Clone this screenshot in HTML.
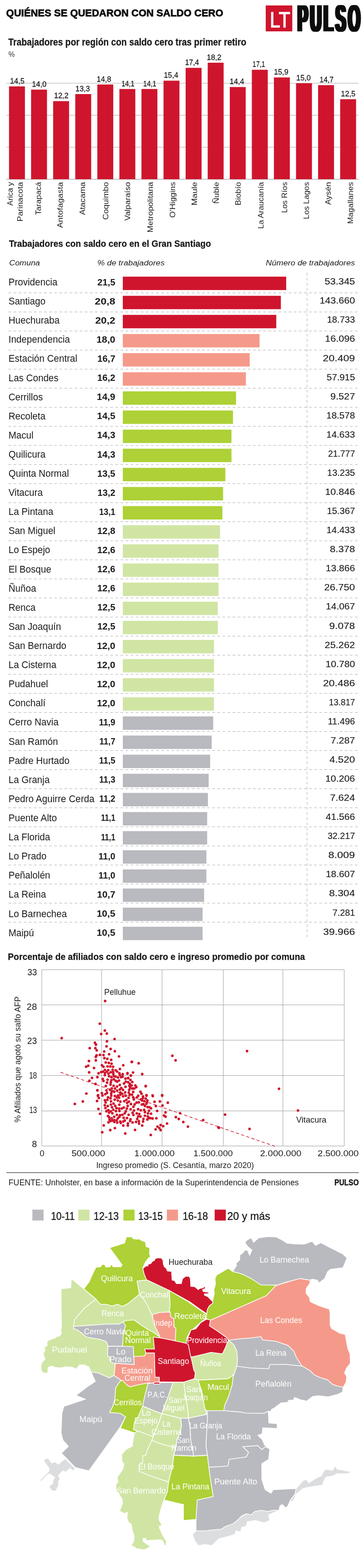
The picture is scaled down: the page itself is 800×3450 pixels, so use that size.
<!DOCTYPE html>
<html lang="es">
<head>
<meta charset="utf-8">
<title>Quiénes se quedaron con saldo cero</title>
<style>
html,body{margin:0;padding:0;background:#fff;}
body{width:800px;height:3450px;overflow:hidden;font-family:"Liberation Sans", sans-serif;}
svg{display:block;}
svg text{font-family:"Liberation Sans", sans-serif;fill:#1a1a1a;}
</style>
</head>
<body>
<svg width="800" height="3450" viewBox="0 0 800 3450">
<rect x="0" y="0" width="800" height="3450" fill="#ffffff"/>
<defs><filter id="fat" x="-5%" y="-5%" width="110%" height="110%" filterUnits="objectBoundingBox"><feMorphology operator="dilate" radius="3 0"/></filter></defs>
<g id="header">
<text x="13.6" y="36.3" font-size="22.6" font-weight="bold" textLength="477.0" lengthAdjust="spacingAndGlyphs" style="fill:#111" stroke="#111" stroke-width="0.9">QUIÉNES SE QUEDARON CON SALDO CERO</text>
<rect x="584.0" y="12.0" width="58.4" height="57.0" fill="#cf152d"/>
<text x="593.0" y="60.0" font-size="48" textLength="45.0" lengthAdjust="spacingAndGlyphs" style="fill:#ffffff" stroke="#ffffff" stroke-width="1.3">LT</text>
<g filter="url(#fat)"><text transform="translate(653.9 69) scale(0.4156 1)" font-size="82.8" font-weight="bold" letter-spacing="11.6" style="fill:#111">PULSO</text></g>
</g>
<g id="barchart">
<text x="18.2" y="99.7" font-size="21.6" font-weight="bold" textLength="523.0" lengthAdjust="spacingAndGlyphs" stroke="#1a1a1a" stroke-width="0.3">Trabajadores por región con saldo cero tras primer retiro</text>
<text x="18.4" y="124.6" font-size="16" textLength="14.0" lengthAdjust="spacingAndGlyphs" style="fill:#333">%</text>
<line x1="13.5" y1="394.3" x2="788.0" y2="394.3" stroke="#8a8a8a" stroke-width="1"/>
<line x1="13.5" y1="323.9" x2="788.0" y2="323.9" stroke="#a9a9a9" stroke-width="1"/>
<line x1="13.5" y1="253.5" x2="788.0" y2="253.5" stroke="#a9a9a9" stroke-width="1"/>
<line x1="13.5" y1="183.1" x2="788.0" y2="183.1" stroke="#a9a9a9" stroke-width="1"/>
<rect x="19.8" y="190.1" width="35.0" height="204.2" fill="#cf152d"/>
<text x="22.0" y="184.0" font-size="17" textLength="31.9" lengthAdjust="spacingAndGlyphs" stroke="#1a1a1a" stroke-width="0.3">14,5</text>
<text x="28.5" y="452.4" font-size="17" textLength="52.0" lengthAdjust="spacingAndGlyphs" transform="rotate(-90 28.5 452.4)">Arica y</text>
<text x="50.3" y="487.4" font-size="17" textLength="87.0" lengthAdjust="spacingAndGlyphs" transform="rotate(-90 50.3 487.4)">Parinacota</text>
<rect x="68.3" y="197.2" width="35.0" height="197.1" fill="#cf152d"/>
<text x="70.2" y="191.1" font-size="17" textLength="31.9" lengthAdjust="spacingAndGlyphs" stroke="#1a1a1a" stroke-width="0.3">14,0</text>
<text x="89.8" y="473.1" font-size="17" textLength="72.7" lengthAdjust="spacingAndGlyphs" transform="rotate(-90 89.8 473.1)">Tarapacá</text>
<rect x="116.8" y="222.5" width="35.0" height="171.8" fill="#cf152d"/>
<text x="118.8" y="216.4" font-size="17" textLength="31.9" lengthAdjust="spacingAndGlyphs" stroke="#1a1a1a" stroke-width="0.3">12,2</text>
<text x="138.0" y="501.4" font-size="17" textLength="101.0" lengthAdjust="spacingAndGlyphs" transform="rotate(-90 138.0 501.4)">Antofagasta</text>
<rect x="165.4" y="207.0" width="35.0" height="187.3" fill="#cf152d"/>
<text x="165.8" y="200.9" font-size="17" textLength="31.9" lengthAdjust="spacingAndGlyphs" stroke="#1a1a1a" stroke-width="0.3">13,3</text>
<text x="187.0" y="473.1" font-size="17" textLength="72.7" lengthAdjust="spacingAndGlyphs" transform="rotate(-90 187.0 473.1)">Atacama</text>
<rect x="213.9" y="185.9" width="35.0" height="208.4" fill="#cf152d"/>
<text x="212.6" y="179.8" font-size="17" textLength="31.9" lengthAdjust="spacingAndGlyphs" stroke="#1a1a1a" stroke-width="0.3">14,8</text>
<text x="238.5" y="483.4" font-size="17" textLength="83.0" lengthAdjust="spacingAndGlyphs" transform="rotate(-90 238.5 483.4)">Coquimbo</text>
<rect x="262.4" y="195.8" width="35.0" height="198.5" fill="#cf152d"/>
<text x="266.9" y="189.7" font-size="17" textLength="28.6" lengthAdjust="spacingAndGlyphs" stroke="#1a1a1a" stroke-width="0.3">14,1</text>
<text x="286.4" y="485.4" font-size="17" textLength="85.0" lengthAdjust="spacingAndGlyphs" transform="rotate(-90 286.4 485.4)">Valparaíso</text>
<rect x="310.9" y="195.8" width="35.0" height="198.5" fill="#cf152d"/>
<text x="314.8" y="189.7" font-size="17" textLength="28.6" lengthAdjust="spacingAndGlyphs" stroke="#1a1a1a" stroke-width="0.3">14,1</text>
<text x="335.7" y="511.4" font-size="17" textLength="111.0" lengthAdjust="spacingAndGlyphs" transform="rotate(-90 335.7 511.4)">Metropolitana</text>
<rect x="359.4" y="177.5" width="35.0" height="216.8" fill="#cf152d"/>
<text x="360.0" y="171.4" font-size="17" textLength="31.9" lengthAdjust="spacingAndGlyphs" stroke="#1a1a1a" stroke-width="0.3">15,4</text>
<text x="384.9" y="479.0" font-size="17" textLength="78.6" lengthAdjust="spacingAndGlyphs" transform="rotate(-90 384.9 479.0)">O'Higgins</text>
<rect x="408.0" y="149.3" width="35.0" height="245.0" fill="#cf152d"/>
<text x="406.7" y="143.2" font-size="17" textLength="30.7" lengthAdjust="spacingAndGlyphs" stroke="#1a1a1a" stroke-width="0.3">17,4</text>
<text x="433.5" y="451.9" font-size="17" textLength="51.5" lengthAdjust="spacingAndGlyphs" transform="rotate(-90 433.5 451.9)">Maule</text>
<rect x="456.5" y="138.0" width="35.0" height="256.3" fill="#cf152d"/>
<text x="454.6" y="131.9" font-size="17" textLength="31.9" lengthAdjust="spacingAndGlyphs" stroke="#1a1a1a" stroke-width="0.3">18,2</text>
<text x="481.4" y="448.2" font-size="17" textLength="47.8" lengthAdjust="spacingAndGlyphs" transform="rotate(-90 481.4 448.2)">Ñuble</text>
<rect x="505.0" y="191.5" width="35.0" height="202.8" fill="#cf152d"/>
<text x="504.8" y="185.4" font-size="17" textLength="31.9" lengthAdjust="spacingAndGlyphs" stroke="#1a1a1a" stroke-width="0.3">14,4</text>
<text x="529.0" y="451.9" font-size="17" textLength="51.5" lengthAdjust="spacingAndGlyphs" transform="rotate(-90 529.0 451.9)">Biobío</text>
<rect x="553.5" y="153.5" width="35.0" height="240.8" fill="#cf152d"/>
<text x="555.1" y="147.4" font-size="17" textLength="27.4" lengthAdjust="spacingAndGlyphs" stroke="#1a1a1a" stroke-width="0.3">17,1</text>
<text x="579.2" y="503.4" font-size="17" textLength="103.0" lengthAdjust="spacingAndGlyphs" transform="rotate(-90 579.2 503.4)">La Araucanía</text>
<rect x="602.0" y="170.4" width="35.0" height="223.9" fill="#cf152d"/>
<text x="601.9" y="164.3" font-size="17" textLength="31.9" lengthAdjust="spacingAndGlyphs" stroke="#1a1a1a" stroke-width="0.3">15,9</text>
<text x="631.2" y="468.6" font-size="17" textLength="68.2" lengthAdjust="spacingAndGlyphs" transform="rotate(-90 631.2 468.6)">Los Ríos</text>
<rect x="650.6" y="183.1" width="35.0" height="211.2" fill="#cf152d"/>
<text x="651.1" y="177.0" font-size="17" textLength="31.9" lengthAdjust="spacingAndGlyphs" stroke="#1a1a1a" stroke-width="0.3">15,0</text>
<text x="678.7" y="482.2" font-size="17" textLength="81.8" lengthAdjust="spacingAndGlyphs" transform="rotate(-90 678.7 482.2)">Los Lagos</text>
<rect x="699.1" y="187.3" width="35.0" height="207.0" fill="#cf152d"/>
<text x="702.4" y="181.2" font-size="17" textLength="30.7" lengthAdjust="spacingAndGlyphs" stroke="#1a1a1a" stroke-width="0.3">14,7</text>
<text x="727.3" y="450.4" font-size="17" textLength="50.0" lengthAdjust="spacingAndGlyphs" transform="rotate(-90 727.3 450.4)">Aysén</text>
<rect x="747.6" y="218.3" width="35.0" height="176.0" fill="#cf152d"/>
<text x="749.3" y="212.2" font-size="17" textLength="31.9" lengthAdjust="spacingAndGlyphs" stroke="#1a1a1a" stroke-width="0.3">12,5</text>
<text x="775.9" y="492.6" font-size="17" textLength="92.2" lengthAdjust="spacingAndGlyphs" transform="rotate(-90 775.9 492.6)">Magallanes</text>
</g>
<g id="table">
<text x="19.7" y="542.7" font-size="20.6" font-weight="bold" textLength="444.0" lengthAdjust="spacingAndGlyphs" stroke="#1a1a1a" stroke-width="0.3">Trabajadores con saldo cero en el Gran Santiago</text>
<text x="20.3" y="583.5" font-size="17.2" font-style="italic" textLength="67.5" lengthAdjust="spacingAndGlyphs">Comuna</text>
<text x="214.0" y="583.5" font-size="17.2" font-style="italic" textLength="147.8" lengthAdjust="spacingAndGlyphs">% de trabajadores</text>
<text x="584.3" y="583.5" font-size="17.2" font-style="italic" textLength="195.8" lengthAdjust="spacingAndGlyphs">Número de trabajadores</text>
<text x="18.7" y="627.9" font-size="21.4" textLength="107.6" lengthAdjust="spacingAndGlyphs">Providencia</text>
<text x="214.1" y="627.6" font-size="19.5" font-weight="bold" textLength="39.3" lengthAdjust="spacingAndGlyphs">21,5</text>
<rect x="269.9" y="608.7" width="359.1" height="29.5" fill="#cf152d"/>
<text x="713.4" y="626.2" font-size="20.6" textLength="66.8" lengthAdjust="spacingAndGlyphs" stroke="#1a1a1a" stroke-width="0.15">53.345</text>
<line x1="18.4" y1="644.4" x2="787.5" y2="644.4" stroke="#a0a0a0" stroke-width="0.9" stroke-dasharray="6 5.2"/>
<text x="18.7" y="670.0" font-size="21.4" textLength="81.3" lengthAdjust="spacingAndGlyphs">Santiago</text>
<text x="208.3" y="669.7" font-size="19.5" font-weight="bold" textLength="45.1" lengthAdjust="spacingAndGlyphs">20,8</text>
<rect x="269.9" y="650.8" width="347.4" height="29.5" fill="#cf152d"/>
<text x="702.4" y="668.3" font-size="20.6" textLength="77.8" lengthAdjust="spacingAndGlyphs" stroke="#1a1a1a" stroke-width="0.15">143.660</text>
<line x1="18.4" y1="686.4" x2="787.5" y2="686.4" stroke="#a0a0a0" stroke-width="0.9" stroke-dasharray="6 5.2"/>
<text x="18.7" y="712.1" font-size="21.4" textLength="112.2" lengthAdjust="spacingAndGlyphs">Huechuraba</text>
<text x="209.2" y="711.8" font-size="19.5" font-weight="bold" textLength="44.2" lengthAdjust="spacingAndGlyphs">20,2</text>
<rect x="269.9" y="692.8" width="337.3" height="29.5" fill="#cf152d"/>
<text x="718.7" y="710.3" font-size="20.6" textLength="61.5" lengthAdjust="spacingAndGlyphs" stroke="#1a1a1a" stroke-width="0.15">18.733</text>
<line x1="18.4" y1="728.3" x2="787.5" y2="728.3" stroke="#a0a0a0" stroke-width="0.9" stroke-dasharray="6 5.2"/>
<text x="18.7" y="754.2" font-size="21.4" textLength="135.1" lengthAdjust="spacingAndGlyphs">Independencia</text>
<text x="212.0" y="753.9" font-size="19.5" font-weight="bold" textLength="41.4" lengthAdjust="spacingAndGlyphs">18,0</text>
<rect x="269.9" y="734.9" width="300.6" height="29.5" fill="#f59a8b"/>
<text x="714.2" y="752.4" font-size="20.6" textLength="66.0" lengthAdjust="spacingAndGlyphs" stroke="#1a1a1a" stroke-width="0.15">16.096</text>
<line x1="18.4" y1="770.3" x2="787.5" y2="770.3" stroke="#a0a0a0" stroke-width="0.9" stroke-dasharray="6 5.2"/>
<text x="18.7" y="796.3" font-size="21.4" textLength="151.1" lengthAdjust="spacingAndGlyphs">Estación Central</text>
<text x="214.0" y="796.0" font-size="19.5" font-weight="bold" textLength="39.4" lengthAdjust="spacingAndGlyphs">16,7</text>
<rect x="269.9" y="777.0" width="278.9" height="29.5" fill="#f59a8b"/>
<text x="709.6" y="794.5" font-size="20.6" textLength="70.6" lengthAdjust="spacingAndGlyphs" stroke="#1a1a1a" stroke-width="0.15">20.409</text>
<line x1="18.4" y1="812.2" x2="787.5" y2="812.2" stroke="#a0a0a0" stroke-width="0.9" stroke-dasharray="6 5.2"/>
<text x="18.7" y="838.5" font-size="21.4" textLength="109.9" lengthAdjust="spacingAndGlyphs">Las Condes</text>
<text x="213.7" y="838.1" font-size="19.5" font-weight="bold" textLength="39.7" lengthAdjust="spacingAndGlyphs">16,2</text>
<rect x="269.9" y="819.1" width="270.5" height="29.5" fill="#f59a8b"/>
<text x="718.1" y="836.6" font-size="20.6" textLength="62.1" lengthAdjust="spacingAndGlyphs" stroke="#1a1a1a" stroke-width="0.15">57.915</text>
<line x1="18.4" y1="854.2" x2="787.5" y2="854.2" stroke="#a0a0a0" stroke-width="0.9" stroke-dasharray="6 5.2"/>
<text x="18.7" y="880.6" font-size="21.4" textLength="75.5" lengthAdjust="spacingAndGlyphs">Cerrillos</text>
<text x="212.8" y="880.2" font-size="19.5" font-weight="bold" textLength="40.6" lengthAdjust="spacingAndGlyphs">14,9</text>
<rect x="269.9" y="861.1" width="248.8" height="29.5" fill="#add136"/>
<text x="726.0" y="878.6" font-size="20.6" textLength="54.2" lengthAdjust="spacingAndGlyphs" stroke="#1a1a1a" stroke-width="0.15">9.527</text>
<line x1="18.4" y1="896.2" x2="787.5" y2="896.2" stroke="#a0a0a0" stroke-width="0.9" stroke-dasharray="6 5.2"/>
<text x="18.7" y="922.7" font-size="21.4" textLength="81.3" lengthAdjust="spacingAndGlyphs">Recoleta</text>
<text x="213.2" y="922.3" font-size="19.5" font-weight="bold" textLength="40.2" lengthAdjust="spacingAndGlyphs">14,5</text>
<rect x="269.9" y="903.2" width="242.1" height="29.5" fill="#add136"/>
<text x="717.2" y="920.7" font-size="20.6" textLength="63.0" lengthAdjust="spacingAndGlyphs" stroke="#1a1a1a" stroke-width="0.15">18.578</text>
<line x1="18.4" y1="938.1" x2="787.5" y2="938.1" stroke="#a0a0a0" stroke-width="0.9" stroke-dasharray="6 5.2"/>
<text x="18.7" y="964.8" font-size="21.4" textLength="54.9" lengthAdjust="spacingAndGlyphs">Macul</text>
<text x="213.4" y="964.4" font-size="19.5" font-weight="bold" textLength="40.0" lengthAdjust="spacingAndGlyphs">14,3</text>
<rect x="269.9" y="945.3" width="238.8" height="29.5" fill="#add136"/>
<text x="717.2" y="962.8" font-size="20.6" textLength="63.0" lengthAdjust="spacingAndGlyphs" stroke="#1a1a1a" stroke-width="0.15">14.633</text>
<line x1="18.4" y1="980.1" x2="787.5" y2="980.1" stroke="#a0a0a0" stroke-width="0.9" stroke-dasharray="6 5.2"/>
<text x="18.7" y="1006.9" font-size="21.4" textLength="81.3" lengthAdjust="spacingAndGlyphs">Quilicura</text>
<text x="213.4" y="1006.5" font-size="19.5" font-weight="bold" textLength="40.0" lengthAdjust="spacingAndGlyphs">14,3</text>
<rect x="269.9" y="987.3" width="238.8" height="29.5" fill="#add136"/>
<text x="720.9" y="1004.8" font-size="20.6" textLength="59.3" lengthAdjust="spacingAndGlyphs" stroke="#1a1a1a" stroke-width="0.15">21.777</text>
<line x1="18.4" y1="1022.0" x2="787.5" y2="1022.0" stroke="#a0a0a0" stroke-width="0.9" stroke-dasharray="6 5.2"/>
<text x="18.7" y="1049.0" font-size="21.4" textLength="132.8" lengthAdjust="spacingAndGlyphs">Quinta Normal</text>
<text x="213.8" y="1048.6" font-size="19.5" font-weight="bold" textLength="39.6" lengthAdjust="spacingAndGlyphs">13,5</text>
<rect x="269.9" y="1029.4" width="225.4" height="29.5" fill="#add136"/>
<text x="719.1" y="1046.9" font-size="20.6" textLength="61.1" lengthAdjust="spacingAndGlyphs" stroke="#1a1a1a" stroke-width="0.15">13.235</text>
<line x1="18.4" y1="1064.0" x2="787.5" y2="1064.0" stroke="#a0a0a0" stroke-width="0.9" stroke-dasharray="6 5.2"/>
<text x="18.7" y="1091.1" font-size="21.4" textLength="75.2" lengthAdjust="spacingAndGlyphs">Vitacura</text>
<text x="214.3" y="1090.7" font-size="19.5" font-weight="bold" textLength="39.1" lengthAdjust="spacingAndGlyphs">13,2</text>
<rect x="269.9" y="1071.5" width="220.4" height="29.5" fill="#add136"/>
<text x="714.4" y="1089.0" font-size="20.6" textLength="65.8" lengthAdjust="spacingAndGlyphs" stroke="#1a1a1a" stroke-width="0.15">10.846</text>
<line x1="18.4" y1="1106.0" x2="787.5" y2="1106.0" stroke="#a0a0a0" stroke-width="0.9" stroke-dasharray="6 5.2"/>
<text x="18.7" y="1133.2" font-size="21.4" textLength="98.5" lengthAdjust="spacingAndGlyphs">La Pintana</text>
<text x="218.0" y="1132.8" font-size="19.5" font-weight="bold" textLength="35.4" lengthAdjust="spacingAndGlyphs">13,1</text>
<rect x="269.9" y="1113.5" width="218.8" height="29.5" fill="#add136"/>
<text x="718.4" y="1131.0" font-size="20.6" textLength="61.8" lengthAdjust="spacingAndGlyphs" stroke="#1a1a1a" stroke-width="0.15">15.367</text>
<line x1="18.4" y1="1147.9" x2="787.5" y2="1147.9" stroke="#a0a0a0" stroke-width="0.9" stroke-dasharray="6 5.2"/>
<text x="18.7" y="1175.3" font-size="21.4" textLength="103.0" lengthAdjust="spacingAndGlyphs">San Miguel</text>
<text x="213.7" y="1174.9" font-size="19.5" font-weight="bold" textLength="39.7" lengthAdjust="spacingAndGlyphs">12,8</text>
<rect x="269.9" y="1155.6" width="213.8" height="29.5" fill="#d0e5a4"/>
<text x="717.4" y="1173.1" font-size="20.6" textLength="62.8" lengthAdjust="spacingAndGlyphs" stroke="#1a1a1a" stroke-width="0.15">14.433</text>
<line x1="18.4" y1="1189.9" x2="787.5" y2="1189.9" stroke="#a0a0a0" stroke-width="0.9" stroke-dasharray="6 5.2"/>
<text x="18.7" y="1217.4" font-size="21.4" textLength="91.6" lengthAdjust="spacingAndGlyphs">Lo Espejo</text>
<text x="213.7" y="1217.0" font-size="19.5" font-weight="bold" textLength="39.7" lengthAdjust="spacingAndGlyphs">12,6</text>
<rect x="269.9" y="1197.7" width="210.4" height="29.5" fill="#d0e5a4"/>
<text x="725.1" y="1215.2" font-size="20.6" textLength="55.1" lengthAdjust="spacingAndGlyphs" stroke="#1a1a1a" stroke-width="0.15">8.378</text>
<line x1="18.4" y1="1231.8" x2="787.5" y2="1231.8" stroke="#a0a0a0" stroke-width="0.9" stroke-dasharray="6 5.2"/>
<text x="18.7" y="1259.5" font-size="21.4" textLength="93.9" lengthAdjust="spacingAndGlyphs">El Bosque</text>
<text x="213.7" y="1259.1" font-size="19.5" font-weight="bold" textLength="39.7" lengthAdjust="spacingAndGlyphs">12,6</text>
<rect x="269.9" y="1239.8" width="210.4" height="29.5" fill="#d0e5a4"/>
<text x="715.8" y="1257.2" font-size="20.6" textLength="64.4" lengthAdjust="spacingAndGlyphs" stroke="#1a1a1a" stroke-width="0.15">13.866</text>
<line x1="18.4" y1="1273.8" x2="787.5" y2="1273.8" stroke="#a0a0a0" stroke-width="0.9" stroke-dasharray="6 5.2"/>
<text x="18.7" y="1301.7" font-size="21.4" textLength="60.7" lengthAdjust="spacingAndGlyphs">Ñuñoa</text>
<text x="213.7" y="1301.2" font-size="19.5" font-weight="bold" textLength="39.7" lengthAdjust="spacingAndGlyphs">12,6</text>
<rect x="269.9" y="1281.8" width="210.4" height="29.5" fill="#d0e5a4"/>
<text x="712.4" y="1299.3" font-size="20.6" textLength="67.8" lengthAdjust="spacingAndGlyphs" stroke="#1a1a1a" stroke-width="0.15">26.750</text>
<line x1="18.4" y1="1315.8" x2="787.5" y2="1315.8" stroke="#a0a0a0" stroke-width="0.9" stroke-dasharray="6 5.2"/>
<text x="18.7" y="1343.8" font-size="21.4" textLength="59.5" lengthAdjust="spacingAndGlyphs">Renca</text>
<text x="214.1" y="1343.3" font-size="19.5" font-weight="bold" textLength="39.3" lengthAdjust="spacingAndGlyphs">12,5</text>
<rect x="269.9" y="1323.9" width="208.8" height="29.5" fill="#d0e5a4"/>
<text x="716.1" y="1341.4" font-size="20.6" textLength="64.1" lengthAdjust="spacingAndGlyphs" stroke="#1a1a1a" stroke-width="0.15">14.067</text>
<line x1="18.4" y1="1357.7" x2="787.5" y2="1357.7" stroke="#a0a0a0" stroke-width="0.9" stroke-dasharray="6 5.2"/>
<text x="18.7" y="1385.9" font-size="21.4" textLength="115.6" lengthAdjust="spacingAndGlyphs">San Joaquín</text>
<text x="214.1" y="1385.4" font-size="19.5" font-weight="bold" textLength="39.3" lengthAdjust="spacingAndGlyphs">12,5</text>
<rect x="269.9" y="1366.0" width="208.8" height="29.5" fill="#d0e5a4"/>
<text x="723.5" y="1383.5" font-size="20.6" textLength="56.7" lengthAdjust="spacingAndGlyphs" stroke="#1a1a1a" stroke-width="0.15">9.078</text>
<line x1="18.4" y1="1399.7" x2="787.5" y2="1399.7" stroke="#a0a0a0" stroke-width="0.9" stroke-dasharray="6 5.2"/>
<text x="18.7" y="1428.0" font-size="21.4" textLength="127.1" lengthAdjust="spacingAndGlyphs">San Bernardo</text>
<text x="212.9" y="1427.5" font-size="19.5" font-weight="bold" textLength="40.5" lengthAdjust="spacingAndGlyphs">12,0</text>
<rect x="269.9" y="1408.0" width="200.4" height="29.5" fill="#d0e5a4"/>
<text x="713.5" y="1425.5" font-size="20.6" textLength="66.7" lengthAdjust="spacingAndGlyphs" stroke="#1a1a1a" stroke-width="0.15">25.262</text>
<line x1="18.4" y1="1441.6" x2="787.5" y2="1441.6" stroke="#a0a0a0" stroke-width="0.9" stroke-dasharray="6 5.2"/>
<text x="18.7" y="1470.1" font-size="21.4" textLength="105.3" lengthAdjust="spacingAndGlyphs">La Cisterna</text>
<text x="212.9" y="1469.6" font-size="19.5" font-weight="bold" textLength="40.5" lengthAdjust="spacingAndGlyphs">12,0</text>
<rect x="269.9" y="1450.1" width="200.4" height="29.5" fill="#d0e5a4"/>
<text x="715.5" y="1467.6" font-size="20.6" textLength="64.7" lengthAdjust="spacingAndGlyphs" stroke="#1a1a1a" stroke-width="0.15">10.780</text>
<line x1="18.4" y1="1483.6" x2="787.5" y2="1483.6" stroke="#a0a0a0" stroke-width="0.9" stroke-dasharray="6 5.2"/>
<text x="18.7" y="1512.2" font-size="21.4" textLength="87.0" lengthAdjust="spacingAndGlyphs">Pudahuel</text>
<text x="212.9" y="1511.7" font-size="19.5" font-weight="bold" textLength="40.5" lengthAdjust="spacingAndGlyphs">12,0</text>
<rect x="269.9" y="1492.2" width="200.4" height="29.5" fill="#d0e5a4"/>
<text x="710.0" y="1509.7" font-size="20.6" textLength="70.2" lengthAdjust="spacingAndGlyphs" stroke="#1a1a1a" stroke-width="0.15">20.486</text>
<line x1="18.4" y1="1525.6" x2="787.5" y2="1525.6" stroke="#a0a0a0" stroke-width="0.9" stroke-dasharray="6 5.2"/>
<text x="18.7" y="1554.3" font-size="21.4" textLength="81.3" lengthAdjust="spacingAndGlyphs">Conchalí</text>
<text x="212.9" y="1553.8" font-size="19.5" font-weight="bold" textLength="40.5" lengthAdjust="spacingAndGlyphs">12,0</text>
<rect x="269.9" y="1534.2" width="200.4" height="29.5" fill="#d0e5a4"/>
<text x="723.1" y="1551.7" font-size="20.6" textLength="57.1" lengthAdjust="spacingAndGlyphs" stroke="#1a1a1a" stroke-width="0.15">13.817</text>
<line x1="18.4" y1="1567.5" x2="787.5" y2="1567.5" stroke="#a0a0a0" stroke-width="0.9" stroke-dasharray="6 5.2"/>
<text x="18.7" y="1596.4" font-size="21.4" textLength="109.9" lengthAdjust="spacingAndGlyphs">Cerro Navia</text>
<text x="217.4" y="1595.9" font-size="19.5" font-weight="bold" textLength="36.0" lengthAdjust="spacingAndGlyphs">11,9</text>
<rect x="269.9" y="1576.3" width="198.7" height="29.5" fill="#b9babf"/>
<text x="720.4" y="1593.8" font-size="20.6" textLength="59.8" lengthAdjust="spacingAndGlyphs" stroke="#1a1a1a" stroke-width="0.15">11.496</text>
<line x1="18.4" y1="1609.5" x2="787.5" y2="1609.5" stroke="#a0a0a0" stroke-width="0.9" stroke-dasharray="6 5.2"/>
<text x="18.7" y="1638.5" font-size="21.4" textLength="108.8" lengthAdjust="spacingAndGlyphs">San Ramón</text>
<text x="218.6" y="1638.0" font-size="19.5" font-weight="bold" textLength="34.8" lengthAdjust="spacingAndGlyphs">11,7</text>
<rect x="269.9" y="1618.4" width="195.4" height="29.5" fill="#b9babf"/>
<text x="726.8" y="1635.9" font-size="20.6" textLength="53.4" lengthAdjust="spacingAndGlyphs" stroke="#1a1a1a" stroke-width="0.15">7.287</text>
<line x1="18.4" y1="1651.4" x2="787.5" y2="1651.4" stroke="#a0a0a0" stroke-width="0.9" stroke-dasharray="6 5.2"/>
<text x="18.7" y="1680.7" font-size="21.4" textLength="133.9" lengthAdjust="spacingAndGlyphs">Padre Hurtado</text>
<text x="217.8" y="1680.1" font-size="19.5" font-weight="bold" textLength="35.6" lengthAdjust="spacingAndGlyphs">11,5</text>
<rect x="269.9" y="1660.5" width="192.0" height="29.5" fill="#b9babf"/>
<text x="724.1" y="1678.0" font-size="20.6" textLength="56.1" lengthAdjust="spacingAndGlyphs" stroke="#1a1a1a" stroke-width="0.15">4.520</text>
<line x1="18.4" y1="1693.4" x2="787.5" y2="1693.4" stroke="#a0a0a0" stroke-width="0.9" stroke-dasharray="6 5.2"/>
<text x="18.7" y="1722.8" font-size="21.4" textLength="90.4" lengthAdjust="spacingAndGlyphs">La Granja</text>
<text x="218.0" y="1722.2" font-size="19.5" font-weight="bold" textLength="35.4" lengthAdjust="spacingAndGlyphs">11,3</text>
<rect x="269.9" y="1702.5" width="188.7" height="29.5" fill="#b9babf"/>
<text x="715.0" y="1720.0" font-size="20.6" textLength="65.2" lengthAdjust="spacingAndGlyphs" stroke="#1a1a1a" stroke-width="0.15">10.206</text>
<line x1="18.4" y1="1735.4" x2="787.5" y2="1735.4" stroke="#a0a0a0" stroke-width="0.9" stroke-dasharray="6 5.2"/>
<text x="18.7" y="1764.9" font-size="21.4" textLength="188.9" lengthAdjust="spacingAndGlyphs">Pedro Aguirre Cerda</text>
<text x="218.3" y="1764.3" font-size="19.5" font-weight="bold" textLength="35.1" lengthAdjust="spacingAndGlyphs">11,2</text>
<rect x="269.9" y="1744.6" width="187.0" height="29.5" fill="#b9babf"/>
<text x="725.3" y="1762.1" font-size="20.6" textLength="54.9" lengthAdjust="spacingAndGlyphs" stroke="#1a1a1a" stroke-width="0.15">7.624</text>
<line x1="18.4" y1="1777.3" x2="787.5" y2="1777.3" stroke="#a0a0a0" stroke-width="0.9" stroke-dasharray="6 5.2"/>
<text x="18.7" y="1807.0" font-size="21.4" textLength="106.5" lengthAdjust="spacingAndGlyphs">Puente Alto</text>
<text x="222.0" y="1806.4" font-size="19.5" font-weight="bold" textLength="31.4" lengthAdjust="spacingAndGlyphs">11,1</text>
<rect x="269.9" y="1786.7" width="185.4" height="29.5" fill="#b9babf"/>
<text x="715.7" y="1804.2" font-size="20.6" textLength="64.5" lengthAdjust="spacingAndGlyphs" stroke="#1a1a1a" stroke-width="0.15">41.566</text>
<line x1="18.4" y1="1819.3" x2="787.5" y2="1819.3" stroke="#a0a0a0" stroke-width="0.9" stroke-dasharray="6 5.2"/>
<text x="18.7" y="1849.1" font-size="21.4" textLength="91.6" lengthAdjust="spacingAndGlyphs">La Florida</text>
<text x="222.0" y="1848.5" font-size="19.5" font-weight="bold" textLength="31.4" lengthAdjust="spacingAndGlyphs">11,1</text>
<rect x="269.9" y="1828.7" width="185.4" height="29.5" fill="#b9babf"/>
<text x="719.9" y="1846.2" font-size="20.6" textLength="60.3" lengthAdjust="spacingAndGlyphs" stroke="#1a1a1a" stroke-width="0.15">32.217</text>
<line x1="18.4" y1="1861.2" x2="787.5" y2="1861.2" stroke="#a0a0a0" stroke-width="0.9" stroke-dasharray="6 5.2"/>
<text x="18.7" y="1891.2" font-size="21.4" textLength="83.6" lengthAdjust="spacingAndGlyphs">Lo Prado</text>
<text x="216.6" y="1890.6" font-size="19.5" font-weight="bold" textLength="36.8" lengthAdjust="spacingAndGlyphs">11,0</text>
<rect x="269.9" y="1870.8" width="183.7" height="29.5" fill="#b9babf"/>
<text x="721.4" y="1888.3" font-size="20.6" textLength="58.8" lengthAdjust="spacingAndGlyphs" stroke="#1a1a1a" stroke-width="0.15">8.009</text>
<line x1="18.4" y1="1903.2" x2="787.5" y2="1903.2" stroke="#a0a0a0" stroke-width="0.9" stroke-dasharray="6 5.2"/>
<text x="18.7" y="1933.3" font-size="21.4" textLength="91.6" lengthAdjust="spacingAndGlyphs">Peñalolén</text>
<text x="216.6" y="1932.7" font-size="19.5" font-weight="bold" textLength="36.8" lengthAdjust="spacingAndGlyphs">11,0</text>
<rect x="269.9" y="1912.9" width="183.7" height="29.5" fill="#b9babf"/>
<text x="715.9" y="1930.4" font-size="20.6" textLength="64.3" lengthAdjust="spacingAndGlyphs" stroke="#1a1a1a" stroke-width="0.15">18.607</text>
<line x1="18.4" y1="1945.2" x2="787.5" y2="1945.2" stroke="#a0a0a0" stroke-width="0.9" stroke-dasharray="6 5.2"/>
<text x="18.7" y="1975.4" font-size="21.4" textLength="82.4" lengthAdjust="spacingAndGlyphs">La Reina</text>
<text x="213.2" y="1974.8" font-size="19.5" font-weight="bold" textLength="40.2" lengthAdjust="spacingAndGlyphs">10,7</text>
<rect x="269.9" y="1954.9" width="178.7" height="29.5" fill="#b9babf"/>
<text x="723.2" y="1972.4" font-size="20.6" textLength="57.0" lengthAdjust="spacingAndGlyphs" stroke="#1a1a1a" stroke-width="0.15">8.304</text>
<line x1="18.4" y1="1987.1" x2="787.5" y2="1987.1" stroke="#a0a0a0" stroke-width="0.9" stroke-dasharray="6 5.2"/>
<text x="18.7" y="2017.5" font-size="21.4" textLength="128.2" lengthAdjust="spacingAndGlyphs">Lo Barnechea</text>
<text x="212.4" y="2016.9" font-size="19.5" font-weight="bold" textLength="41.0" lengthAdjust="spacingAndGlyphs">10,5</text>
<rect x="269.9" y="1997.0" width="175.3" height="29.5" fill="#b9babf"/>
<text x="730.7" y="2014.5" font-size="20.6" textLength="49.5" lengthAdjust="spacingAndGlyphs" stroke="#1a1a1a" stroke-width="0.15">7.281</text>
<line x1="18.4" y1="2029.1" x2="787.5" y2="2029.1" stroke="#a0a0a0" stroke-width="0.9" stroke-dasharray="6 5.2"/>
<text x="18.7" y="2059.6" font-size="21.4" textLength="56.1" lengthAdjust="spacingAndGlyphs">Maipú</text>
<text x="212.4" y="2059.0" font-size="19.5" font-weight="bold" textLength="41.0" lengthAdjust="spacingAndGlyphs">10,5</text>
<rect x="269.9" y="2039.1" width="175.3" height="29.5" fill="#b9babf"/>
<text x="710.2" y="2056.6" font-size="20.6" textLength="70.0" lengthAdjust="spacingAndGlyphs" stroke="#1a1a1a" stroke-width="0.15">39.966</text>
<line x1="674.9" y1="600.0" x2="674.9" y2="2064.0" stroke="#a0a0a0" stroke-width="0.9" stroke-dasharray="6 5.2"/>
</g>
<g id="scatter">
<text x="17.2" y="2111.7" font-size="20.6" font-weight="bold" textLength="653.0" lengthAdjust="spacingAndGlyphs" stroke="#1a1a1a" stroke-width="0.3">Porcentaje de afiliados con saldo cero e ingreso promedio por comuna</text>
<line x1="91.8" y1="2133.6" x2="91.8" y2="2521.5" stroke="#9c9c9c" stroke-width="1"/>
<line x1="223.2" y1="2133.6" x2="223.2" y2="2521.5" stroke="#9c9c9c" stroke-width="1"/>
<line x1="356.2" y1="2133.6" x2="356.2" y2="2521.5" stroke="#9c9c9c" stroke-width="1"/>
<line x1="490.8" y1="2133.6" x2="490.8" y2="2521.5" stroke="#9c9c9c" stroke-width="1"/>
<line x1="621.8" y1="2133.6" x2="621.8" y2="2521.5" stroke="#9c9c9c" stroke-width="1"/>
<line x1="756.5" y1="2133.6" x2="756.5" y2="2521.5" stroke="#9c9c9c" stroke-width="1"/>
<line x1="91.8" y1="2133.6" x2="756.5" y2="2133.6" stroke="#9c9c9c" stroke-width="1"/>
<line x1="91.8" y1="2211.0" x2="756.5" y2="2211.0" stroke="#9c9c9c" stroke-width="1"/>
<line x1="91.8" y1="2288.7" x2="756.5" y2="2288.7" stroke="#9c9c9c" stroke-width="1"/>
<line x1="91.8" y1="2366.4" x2="756.5" y2="2366.4" stroke="#9c9c9c" stroke-width="1"/>
<line x1="91.8" y1="2444.3" x2="756.5" y2="2444.3" stroke="#9c9c9c" stroke-width="1"/>
<line x1="91.8" y1="2521.5" x2="756.5" y2="2521.5" stroke="#9c9c9c" stroke-width="1"/>
<text x="60.2" y="2145.8" font-size="19.5" textLength="21.0" lengthAdjust="spacingAndGlyphs">33</text>
<text x="58.6" y="2221.5" font-size="19.5" textLength="22.6" lengthAdjust="spacingAndGlyphs">28</text>
<text x="59.8" y="2297.2" font-size="19.5" textLength="21.4" lengthAdjust="spacingAndGlyphs">23</text>
<text x="64.0" y="2372.9" font-size="19.5" textLength="17.2" lengthAdjust="spacingAndGlyphs">18</text>
<text x="64.4" y="2448.6" font-size="19.5" textLength="16.8" lengthAdjust="spacingAndGlyphs">13</text>
<text x="70.2" y="2524.3" font-size="19.5" textLength="11.0" lengthAdjust="spacingAndGlyphs">8</text>
<text x="87.3" y="2544.2" font-size="18.7" textLength="10.3" lengthAdjust="spacingAndGlyphs">0</text>
<text x="157.2" y="2544.2" font-size="18.7" textLength="74.0" lengthAdjust="spacingAndGlyphs">500.000</text>
<text x="295.3" y="2544.2" font-size="18.7" textLength="88.5" lengthAdjust="spacingAndGlyphs">1.000.000</text>
<text x="425.0" y="2544.2" font-size="18.7" textLength="86.6" lengthAdjust="spacingAndGlyphs">1.500.000</text>
<text x="571.5" y="2544.2" font-size="18.7" textLength="90.9" lengthAdjust="spacingAndGlyphs">2.000.000</text>
<text x="698.1" y="2544.2" font-size="18.7" textLength="90.3" lengthAdjust="spacingAndGlyphs">2.500.000</text>
<text x="211.5" y="2569.6" font-size="17.5" textLength="346.5" lengthAdjust="spacingAndGlyphs" style="fill:#222">Ingreso promedio (S. Cesantía, marzo 2020)</text>
<text x="45.2" y="2469.8" font-size="17.5" textLength="277.5" lengthAdjust="spacingAndGlyphs" style="fill:#222" transform="rotate(-90 45.2 2469.8)">% Afiliados que agotó su salfo AFP</text>
<line x1="132.9" y1="2359.2" x2="604.6" y2="2522.2" stroke="#cf152d" stroke-width="1.4" stroke-dasharray="7 5"/>
<g fill="#cf152d">
<circle cx="230.4" cy="2267.4" r="2.9"/>
<circle cx="222.3" cy="2275.1" r="2.9"/>
<circle cx="234.7" cy="2274.1" r="2.9"/>
<circle cx="135.6" cy="2284.1" r="2.9"/>
<circle cx="251.8" cy="2286.1" r="2.9"/>
<circle cx="235.1" cy="2291.2" r="2.9"/>
<circle cx="208.6" cy="2294.2" r="2.9"/>
<circle cx="210.9" cy="2298.5" r="2.9"/>
<circle cx="234.1" cy="2302.2" r="2.9"/>
<circle cx="197.2" cy="2306.2" r="2.9"/>
<circle cx="209.6" cy="2306.2" r="2.9"/>
<circle cx="212.6" cy="2310.9" r="2.9"/>
<circle cx="243.1" cy="2307.9" r="2.9"/>
<circle cx="252.5" cy="2312.9" r="2.9"/>
<circle cx="229.0" cy="2313.6" r="2.9"/>
<circle cx="239.7" cy="2319.6" r="2.9"/>
<circle cx="212.3" cy="2322.0" r="2.9"/>
<circle cx="219.6" cy="2321.0" r="2.9"/>
<circle cx="227.4" cy="2321.3" r="2.9"/>
<circle cx="210.6" cy="2325.3" r="2.9"/>
<circle cx="261.5" cy="2324.3" r="2.9"/>
<circle cx="229.4" cy="2328.0" r="2.9"/>
<circle cx="235.7" cy="2329.7" r="2.9"/>
<circle cx="244.4" cy="2332.0" r="2.9"/>
<circle cx="195.5" cy="2334.4" r="2.9"/>
<circle cx="210.6" cy="2333.0" r="2.9"/>
<circle cx="289.3" cy="2336.4" r="2.9"/>
<circle cx="232.4" cy="2337.7" r="2.9"/>
<circle cx="239.1" cy="2338.7" r="2.9"/>
<circle cx="245.1" cy="2340.4" r="2.9"/>
<circle cx="224.0" cy="2343.8" r="2.9"/>
<circle cx="227.4" cy="2347.1" r="2.9"/>
<circle cx="270.9" cy="2343.8" r="2.9"/>
<circle cx="193.9" cy="2344.8" r="2.9"/>
<circle cx="189.2" cy="2347.1" r="2.9"/>
<circle cx="236.4" cy="2346.4" r="2.9"/>
<circle cx="242.4" cy="2346.4" r="2.9"/>
<circle cx="248.5" cy="2347.1" r="2.9"/>
<circle cx="206.6" cy="2349.8" r="2.9"/>
<circle cx="247.5" cy="2353.8" r="2.9"/>
<circle cx="254.2" cy="2354.8" r="2.9"/>
<circle cx="257.5" cy="2357.8" r="2.9"/>
<circle cx="263.5" cy="2352.1" r="2.9"/>
<circle cx="234.7" cy="2357.8" r="2.9"/>
<circle cx="195.9" cy="2359.5" r="2.9"/>
<circle cx="216.6" cy="2361.5" r="2.9"/>
<circle cx="222.3" cy="2358.8" r="2.9"/>
<circle cx="238.4" cy="2362.2" r="2.9"/>
<circle cx="249.1" cy="2363.2" r="2.9"/>
<circle cx="262.5" cy="2361.5" r="2.9"/>
<circle cx="280.3" cy="2361.2" r="2.9"/>
<circle cx="287.7" cy="2366.5" r="2.9"/>
<circle cx="239.7" cy="2367.9" r="2.9"/>
<circle cx="245.1" cy="2369.9" r="2.9"/>
<circle cx="250.8" cy="2367.9" r="2.9"/>
<circle cx="259.2" cy="2370.6" r="2.9"/>
<circle cx="265.9" cy="2369.9" r="2.9"/>
<circle cx="202.2" cy="2371.6" r="2.9"/>
<circle cx="214.0" cy="2369.9" r="2.9"/>
<circle cx="281.6" cy="2372.2" r="2.9"/>
<circle cx="225.7" cy="2373.9" r="2.9"/>
<circle cx="227.4" cy="2378.3" r="2.9"/>
<circle cx="196.5" cy="2377.9" r="2.9"/>
<circle cx="236.4" cy="2375.6" r="2.9"/>
<circle cx="244.8" cy="2376.6" r="2.9"/>
<circle cx="254.2" cy="2377.9" r="2.9"/>
<circle cx="261.5" cy="2377.3" r="2.9"/>
<circle cx="209.9" cy="2385.0" r="2.9"/>
<circle cx="272.6" cy="2384.0" r="2.9"/>
<circle cx="284.3" cy="2389.0" r="2.9"/>
<circle cx="214.0" cy="2399.0" r="2.9"/>
<circle cx="215.6" cy="2409.7" r="2.9"/>
<circle cx="231.0" cy="2202.4" r="2.9"/>
<circle cx="219.3" cy="2252.3" r="2.9"/>
<circle cx="378.8" cy="2323.0" r="2.9"/>
<circle cx="385.9" cy="2333.0" r="2.9"/>
<circle cx="290.1" cy="2336.4" r="2.9"/>
<circle cx="304.8" cy="2339.4" r="2.9"/>
<circle cx="292.4" cy="2359.8" r="2.9"/>
<circle cx="312.5" cy="2363.2" r="2.9"/>
<circle cx="280.0" cy="2362.2" r="2.9"/>
<circle cx="287.4" cy="2366.5" r="2.9"/>
<circle cx="281.7" cy="2372.2" r="2.9"/>
<circle cx="297.4" cy="2388.3" r="2.9"/>
<circle cx="285.0" cy="2389.0" r="2.9"/>
<circle cx="320.2" cy="2389.3" r="2.9"/>
<circle cx="290.7" cy="2395.0" r="2.9"/>
<circle cx="295.1" cy="2395.0" r="2.9"/>
<circle cx="284.0" cy="2398.0" r="2.9"/>
<circle cx="292.7" cy="2402.4" r="2.9"/>
<circle cx="310.8" cy="2406.4" r="2.9"/>
<circle cx="290.1" cy="2408.4" r="2.9"/>
<circle cx="321.9" cy="2409.7" r="2.9"/>
<circle cx="335.3" cy="2410.1" r="2.9"/>
<circle cx="356.4" cy="2409.7" r="2.9"/>
<circle cx="189.8" cy="2406.1" r="2.9"/>
<circle cx="164.4" cy="2428.9" r="2.9"/>
<circle cx="182.1" cy="2423.5" r="2.9"/>
<circle cx="214.0" cy="2399.0" r="2.9"/>
<circle cx="224.0" cy="2405.1" r="2.9"/>
<circle cx="215.0" cy="2411.1" r="2.9"/>
<circle cx="217.3" cy="2415.8" r="2.9"/>
<circle cx="213.3" cy="2422.5" r="2.9"/>
<circle cx="216.3" cy="2439.9" r="2.9"/>
<circle cx="220.0" cy="2450.6" r="2.9"/>
<circle cx="228.0" cy="2476.1" r="2.9"/>
<circle cx="224.7" cy="2491.2" r="2.9"/>
<circle cx="242.4" cy="2486.5" r="2.9"/>
<circle cx="252.5" cy="2482.1" r="2.9"/>
<circle cx="275.3" cy="2493.9" r="2.9"/>
<circle cx="270.9" cy="2476.4" r="2.9"/>
<circle cx="281.0" cy="2476.4" r="2.9"/>
<circle cx="238.4" cy="2469.4" r="2.9"/>
<circle cx="240.8" cy="2463.7" r="2.9"/>
<circle cx="247.5" cy="2465.4" r="2.9"/>
<circle cx="250.8" cy="2464.4" r="2.9"/>
<circle cx="264.2" cy="2467.7" r="2.9"/>
<circle cx="274.3" cy="2465.4" r="2.9"/>
<circle cx="286.0" cy="2466.4" r="2.9"/>
<circle cx="237.4" cy="2455.3" r="2.9"/>
<circle cx="259.2" cy="2460.4" r="2.9"/>
<circle cx="262.5" cy="2457.0" r="2.9"/>
<circle cx="320.2" cy="2390.0" r="2.9"/>
<circle cx="310.8" cy="2406.1" r="2.9"/>
<circle cx="321.9" cy="2410.8" r="2.9"/>
<circle cx="335.9" cy="2411.8" r="2.9"/>
<circle cx="356.4" cy="2410.8" r="2.9"/>
<circle cx="314.2" cy="2415.8" r="2.9"/>
<circle cx="312.5" cy="2421.2" r="2.9"/>
<circle cx="322.9" cy="2425.2" r="2.9"/>
<circle cx="339.6" cy="2424.2" r="2.9"/>
<circle cx="351.4" cy="2423.5" r="2.9"/>
<circle cx="368.8" cy="2426.2" r="2.9"/>
<circle cx="311.8" cy="2430.2" r="2.9"/>
<circle cx="328.6" cy="2436.2" r="2.9"/>
<circle cx="331.9" cy="2438.6" r="2.9"/>
<circle cx="342.6" cy="2433.6" r="2.9"/>
<circle cx="357.1" cy="2432.5" r="2.9"/>
<circle cx="303.5" cy="2440.3" r="2.9"/>
<circle cx="309.5" cy="2442.9" r="2.9"/>
<circle cx="318.5" cy="2447.0" r="2.9"/>
<circle cx="325.2" cy="2449.6" r="2.9"/>
<circle cx="331.9" cy="2450.3" r="2.9"/>
<circle cx="345.3" cy="2444.3" r="2.9"/>
<circle cx="363.8" cy="2447.6" r="2.9"/>
<circle cx="360.4" cy="2454.3" r="2.9"/>
<circle cx="363.8" cy="2457.0" r="2.9"/>
<circle cx="315.2" cy="2462.0" r="2.9"/>
<circle cx="326.9" cy="2459.7" r="2.9"/>
<circle cx="335.3" cy="2461.0" r="2.9"/>
<circle cx="343.7" cy="2460.4" r="2.9"/>
<circle cx="386.5" cy="2458.0" r="2.9"/>
<circle cx="392.9" cy="2462.0" r="2.9"/>
<circle cx="395.6" cy="2449.3" r="2.9"/>
<circle cx="402.9" cy="2468.7" r="2.9"/>
<circle cx="413.0" cy="2478.8" r="2.9"/>
<circle cx="446.5" cy="2464.4" r="2.9"/>
<circle cx="480.0" cy="2480.5" r="2.9"/>
<circle cx="367.1" cy="2472.1" r="2.9"/>
<circle cx="358.7" cy="2477.8" r="2.9"/>
<circle cx="353.0" cy="2475.4" r="2.9"/>
<circle cx="346.0" cy="2478.8" r="2.9"/>
<circle cx="350.4" cy="2482.1" r="2.9"/>
<circle cx="342.0" cy="2484.8" r="2.9"/>
<circle cx="353.0" cy="2486.5" r="2.9"/>
<circle cx="312.5" cy="2476.4" r="2.9"/>
<circle cx="296.8" cy="2486.1" r="2.9"/>
<circle cx="314.5" cy="2467.7" r="2.9"/>
<circle cx="331.3" cy="2497.2" r="2.9"/>
<circle cx="542.9" cy="2312.7" r="2.9"/>
<circle cx="613.2" cy="2395.6" r="2.9"/>
<circle cx="654.9" cy="2443.3" r="2.9"/>
<circle cx="494.6" cy="2452.4" r="2.9"/>
<circle cx="481.1" cy="2481.5" r="2.9"/>
<circle cx="548.4" cy="2484.0" r="2.9"/>
<circle cx="273.1" cy="2422.8" r="2.9"/>
<circle cx="279.4" cy="2426.4" r="2.9"/>
<circle cx="242.9" cy="2416.5" r="2.9"/>
<circle cx="293.2" cy="2453.1" r="2.9"/>
<circle cx="232.6" cy="2389.4" r="2.9"/>
<circle cx="295.9" cy="2430.0" r="2.9"/>
<circle cx="243.5" cy="2381.5" r="2.9"/>
<circle cx="225.4" cy="2410.3" r="2.9"/>
<circle cx="271.8" cy="2459.5" r="2.9"/>
<circle cx="280.7" cy="2433.2" r="2.9"/>
<circle cx="316.9" cy="2442.0" r="2.9"/>
<circle cx="257.6" cy="2379.9" r="2.9"/>
<circle cx="308.6" cy="2402.1" r="2.9"/>
<circle cx="330.3" cy="2460.2" r="2.9"/>
<circle cx="230.3" cy="2431.8" r="2.9"/>
<circle cx="235.3" cy="2382.0" r="2.9"/>
<circle cx="285.2" cy="2408.2" r="2.9"/>
<circle cx="243.5" cy="2445.1" r="2.9"/>
<circle cx="236.8" cy="2433.7" r="2.9"/>
<circle cx="235.2" cy="2404.7" r="2.9"/>
<circle cx="256.4" cy="2465.0" r="2.9"/>
<circle cx="245.8" cy="2401.3" r="2.9"/>
<circle cx="318.5" cy="2433.4" r="2.9"/>
<circle cx="232.2" cy="2425.8" r="2.9"/>
<circle cx="249.5" cy="2428.2" r="2.9"/>
<circle cx="264.0" cy="2408.9" r="2.9"/>
<circle cx="286.9" cy="2462.6" r="2.9"/>
<circle cx="324.7" cy="2456.3" r="2.9"/>
<circle cx="250.2" cy="2374.7" r="2.9"/>
<circle cx="305.6" cy="2472.3" r="2.9"/>
<circle cx="321.7" cy="2428.5" r="2.9"/>
<circle cx="269.6" cy="2363.5" r="2.9"/>
<circle cx="248.9" cy="2441.6" r="2.9"/>
<circle cx="251.0" cy="2457.1" r="2.9"/>
<circle cx="289.4" cy="2388.1" r="2.9"/>
<circle cx="241.9" cy="2397.9" r="2.9"/>
<circle cx="300.1" cy="2426.0" r="2.9"/>
<circle cx="237.9" cy="2354.6" r="2.9"/>
<circle cx="276.5" cy="2445.0" r="2.9"/>
<circle cx="230.5" cy="2421.0" r="2.9"/>
<circle cx="305.3" cy="2467.0" r="2.9"/>
<circle cx="261.8" cy="2439.1" r="2.9"/>
<circle cx="323.8" cy="2463.2" r="2.9"/>
<circle cx="269.1" cy="2452.8" r="2.9"/>
<circle cx="287.8" cy="2429.2" r="2.9"/>
<circle cx="305.1" cy="2425.5" r="2.9"/>
<circle cx="276.3" cy="2379.9" r="2.9"/>
<circle cx="300.9" cy="2414.6" r="2.9"/>
<circle cx="291.4" cy="2469.7" r="2.9"/>
<circle cx="256.0" cy="2438.2" r="2.9"/>
<circle cx="324.3" cy="2435.8" r="2.9"/>
<circle cx="244.4" cy="2406.0" r="2.9"/>
<circle cx="237.4" cy="2414.5" r="2.9"/>
<circle cx="292.7" cy="2414.2" r="2.9"/>
<circle cx="230.4" cy="2354.1" r="2.9"/>
<circle cx="256.9" cy="2452.9" r="2.9"/>
<circle cx="293.2" cy="2435.2" r="2.9"/>
<circle cx="275.7" cy="2373.2" r="2.9"/>
<circle cx="252.8" cy="2394.9" r="2.9"/>
<circle cx="291.4" cy="2448.3" r="2.9"/>
<circle cx="327.4" cy="2443.9" r="2.9"/>
<circle cx="264.6" cy="2423.9" r="2.9"/>
<circle cx="303.6" cy="2456.4" r="2.9"/>
<circle cx="294.5" cy="2443.3" r="2.9"/>
<circle cx="282.7" cy="2452.8" r="2.9"/>
<circle cx="231.4" cy="2407.3" r="2.9"/>
<circle cx="254.8" cy="2444.7" r="2.9"/>
<circle cx="317.3" cy="2422.8" r="2.9"/>
<circle cx="257.2" cy="2399.6" r="2.9"/>
<circle cx="245.5" cy="2460.6" r="2.9"/>
<circle cx="286.7" cy="2376.1" r="2.9"/>
<circle cx="282.6" cy="2415.4" r="2.9"/>
<circle cx="282.9" cy="2403.8" r="2.9"/>
<circle cx="252.4" cy="2411.5" r="2.9"/>
<circle cx="275.8" cy="2391.2" r="2.9"/>
<circle cx="243.6" cy="2430.3" r="2.9"/>
<circle cx="299.6" cy="2391.9" r="2.9"/>
<circle cx="262.2" cy="2430.6" r="2.9"/>
<circle cx="233.9" cy="2445.0" r="2.9"/>
<circle cx="264.5" cy="2403.7" r="2.9"/>
<circle cx="294.1" cy="2418.9" r="2.9"/>
<circle cx="257.6" cy="2470.0" r="2.9"/>
<circle cx="267.5" cy="2439.1" r="2.9"/>
<circle cx="299.1" cy="2468.5" r="2.9"/>
<circle cx="278.8" cy="2439.1" r="2.9"/>
<circle cx="243.4" cy="2359.2" r="2.9"/>
<circle cx="274.2" cy="2449.4" r="2.9"/>
<circle cx="258.9" cy="2410.7" r="2.9"/>
<circle cx="301.6" cy="2461.9" r="2.9"/>
<circle cx="251.2" cy="2468.5" r="2.9"/>
<circle cx="306.1" cy="2451.1" r="2.9"/>
<circle cx="300.5" cy="2449.7" r="2.9"/>
<circle cx="251.0" cy="2402.2" r="2.9"/>
<circle cx="263.3" cy="2387.1" r="2.9"/>
<circle cx="239.7" cy="2448.1" r="2.9"/>
<circle cx="270.5" cy="2412.1" r="2.9"/>
<circle cx="281.1" cy="2471.8" r="2.9"/>
<circle cx="303.7" cy="2410.9" r="2.9"/>
<circle cx="272.0" cy="2436.8" r="2.9"/>
<circle cx="309.9" cy="2419.0" r="2.9"/>
<circle cx="226.5" cy="2357.9" r="2.9"/>
<circle cx="231.8" cy="2437.9" r="2.9"/>
<circle cx="245.8" cy="2394.7" r="2.9"/>
<circle cx="230.4" cy="2365.6" r="2.9"/>
<circle cx="258.8" cy="2421.3" r="2.9"/>
<circle cx="270.3" cy="2398.0" r="2.9"/>
<circle cx="230.9" cy="2360.8" r="2.9"/>
<circle cx="246.1" cy="2436.1" r="2.9"/>
<circle cx="254.0" cy="2368.6" r="2.9"/>
<circle cx="262.4" cy="2444.4" r="2.9"/>
<circle cx="263.4" cy="2365.3" r="2.9"/>
<circle cx="263.3" cy="2397.2" r="2.9"/>
<circle cx="244.0" cy="2423.3" r="2.9"/>
<circle cx="283.5" cy="2423.8" r="2.9"/>
<circle cx="246.9" cy="2449.5" r="2.9"/>
<circle cx="266.6" cy="2393.9" r="2.9"/>
<circle cx="277.8" cy="2419.9" r="2.9"/>
<circle cx="318.4" cy="2454.8" r="2.9"/>
<circle cx="269.5" cy="2369.0" r="2.9"/>
<circle cx="242.9" cy="2386.5" r="2.9"/>
<circle cx="314.3" cy="2412.3" r="2.9"/>
<circle cx="264.0" cy="2453.6" r="2.9"/>
<circle cx="320.2" cy="2417.1" r="2.9"/>
<circle cx="252.1" cy="2419.5" r="2.9"/>
<circle cx="276.3" cy="2410.9" r="2.9"/>
<circle cx="239.8" cy="2458.2" r="2.9"/>
<circle cx="257.2" cy="2390.4" r="2.9"/>
<circle cx="308.7" cy="2456.7" r="2.9"/>
<circle cx="234.0" cy="2399.1" r="2.9"/>
<circle cx="315.2" cy="2429.5" r="2.9"/>
<circle cx="324.0" cy="2421.3" r="2.9"/>
<circle cx="261.8" cy="2415.1" r="2.9"/>
<circle cx="238.0" cy="2442.7" r="2.9"/>
<circle cx="287.1" cy="2440.6" r="2.9"/>
<circle cx="285.3" cy="2384.4" r="2.9"/>
<circle cx="244.5" cy="2410.8" r="2.9"/>
<circle cx="286.2" cy="2393.2" r="2.9"/>
<circle cx="275.1" cy="2403.5" r="2.9"/>
<circle cx="268.2" cy="2406.4" r="2.9"/>
<circle cx="270.8" cy="2467.6" r="2.9"/>
<circle cx="281.5" cy="2381.1" r="2.9"/>
<circle cx="248.7" cy="2358.9" r="2.9"/>
<circle cx="236.0" cy="2419.9" r="2.9"/>
<circle cx="249.6" cy="2388.9" r="2.9"/>
<circle cx="256.8" cy="2414.8" r="2.9"/>
<circle cx="253.3" cy="2433.2" r="2.9"/>
<circle cx="243.1" cy="2466.6" r="2.9"/>
<circle cx="265.5" cy="2470.8" r="2.9"/>
<circle cx="279.1" cy="2459.9" r="2.9"/>
<circle cx="290.7" cy="2380.6" r="2.9"/>
</g>
<text x="229.1" y="2189.3" font-size="19" textLength="69.1" lengthAdjust="spacingAndGlyphs">Pelluhue</text>
<text x="651.0" y="2470.0" font-size="19" textLength="66.5" lengthAdjust="spacingAndGlyphs">Vitacura</text>
<line x1="14.0" y1="2580.2" x2="788.6" y2="2580.2" stroke="#333" stroke-width="1.2"/>
<text x="18.8" y="2608.0" font-size="18" textLength="637.8" lengthAdjust="spacingAndGlyphs">FUENTE: Unholster, en base a información de la Superintendencia de Pensiones</text>
<text x="735.0" y="2608.0" font-size="17.5" font-weight="bold" textLength="53.6" lengthAdjust="spacingAndGlyphs" stroke="#1a1a1a" stroke-width="0.5">PULSO</text>
</g>
<g id="legend">
<rect x="71.2" y="2661.5" width="24.5" height="24.0" fill="#b9babf"/>
<text x="111.9" y="2683.8" font-size="24.5" textLength="52.2" lengthAdjust="spacingAndGlyphs" stroke="#1a1a1a" stroke-width="0.4">10-11</text>
<rect x="172.2" y="2661.5" width="24.5" height="24.0" fill="#d0e5a4"/>
<text x="205.8" y="2683.8" font-size="24.5" textLength="55.3" lengthAdjust="spacingAndGlyphs" stroke="#1a1a1a" stroke-width="0.4">12-13</text>
<rect x="271.2" y="2661.5" width="24.5" height="24.0" fill="#add136"/>
<text x="303.8" y="2683.8" font-size="24.5" textLength="53.9" lengthAdjust="spacingAndGlyphs" stroke="#1a1a1a" stroke-width="0.4">13-15</text>
<rect x="366.7" y="2661.5" width="24.5" height="24.0" fill="#f59a8b"/>
<text x="401.4" y="2683.8" font-size="24.5" textLength="55.8" lengthAdjust="spacingAndGlyphs" stroke="#1a1a1a" stroke-width="0.4">16-18</text>
<rect x="471.8" y="2661.5" width="24.5" height="24.0" fill="#cf152d"/>
<text x="499.4" y="2683.8" font-size="24.5" textLength="94.5" lengthAdjust="spacingAndGlyphs" stroke="#1a1a1a" stroke-width="0.4">20 y más</text>
</g>
<g id="map" stroke="#ffffff" stroke-width="1.6" stroke-linejoin="miter" stroke-miterlimit="3">
<polygon points="156.5,2813.1 184.1,2835.7 215.0,2862.0 240.0,2900.0 262.0,2990.0 258.0,3030.0 240.0,3040.0 206.0,3026.0 199.3,3017.9 195.2,3007.2 189.9,3005.9 187.2,3003.2 175.1,3003.2 172.5,3005.9 168.4,3012.6 160.4,3008.5 144.3,3007.2 133.6,3009.9 118.9,3008.5 117.5,3005.9 108.1,3007.2 105.5,3009.9 105.5,3017.9 102.8,3022.0 94.7,3020.6 90.7,3015.3 89.4,3005.9 92.1,2997.8 98.8,2991.1 94.7,2977.7 98.8,2972.4 97.4,2964.3 104.1,2960.3 102.8,2953.6 105.5,2949.6 122.9,2942.9 124.2,2940.2 129.6,2940.2 134.9,2934.8 133.6,2925.5 134.9,2922.8 134.9,2900.0 134.4,2880.0 134.4,2835.7 155.5,2833.2" fill="#d0e5a4"/>
<polygon points="200.0,3018.3 216.1,3021.0 240.2,3031.7 250.9,3026.4 275.0,3030.0 280.0,3110.0 263.6,3140.8 195.3,3236.3 165.3,3228.7 134.9,3197.4 150.3,3182.4 138.3,3168.8 134.3,3152.8 136.0,3110.0 140.3,3094.5 187.5,3078.6 167.0,3070.0 190.5,3052.0 209.5,3039.5" fill="#b9babf"/>
<polygon points="143.0,3209.5 165.8,3230.9 160.4,3236.3 153.7,3230.9 144.3,3239.0 137.6,3236.3 128.2,3247.0 132.3,3253.7 128.2,3260.4 129.6,3265.8 122.9,3280.5 114.8,3280.5 106.8,3271.1 116.2,3263.1 116.2,3256.4 120.2,3251.0 109.5,3243.0 105.5,3244.3 90.7,3259.1 86.7,3257.7 106.8,3237.6 108.1,3230.9 96.1,3214.8 97.4,3210.8 105.5,3208.1 113.5,3218.9 120.2,3216.2 128.2,3221.5" fill="#dcdddf"/>
<polygon points="296.0,3151.0 300.0,3140.0 340.0,3150.0 390.0,3215.0 385.0,3290.0 359.3,3303.4 353.9,3319.5 349.4,3338.2 349.9,3344.9 356.6,3355.7 349.9,3358.3 351.2,3363.7 357.9,3378.4 366.0,3391.8 364.6,3399.9 361.9,3401.2 357.9,3390.5 352.6,3387.8 321.7,3389.7 320.4,3385.1 315.0,3385.1 313.7,3390.5 320.4,3395.9 331.1,3402.6 317.7,3410.0 301.6,3407.9 288.2,3399.9 293.6,3391.8 294.9,3381.1 290.9,3367.7 288.2,3353.0 282.9,3350.3 278.9,3339.6 280.2,3327.5 273.5,3330.2 262.8,3324.8 269.5,3306.1 268.1,3298.0 262.8,3290.0 255.8,3279.0 254.1,3267.3 259.1,3260.6 257.5,3250.5 260.8,3245.5 269.2,3233.8 272.5,3222.0 267.5,3213.7 267.5,3200.3 277.6,3188.5 291.0,3181.8 292.6,3166.8" fill="#d0e5a4"/>
<polygon points="430.8,3368.2 423.2,3375.8 428.2,3390.8 435.8,3400.9 450.9,3398.4 465.9,3400.9 481.0,3385.8 501.1,3380.8 516.2,3375.8 518.7,3368.2 528.7,3370.7 531.3,3360.7 541.3,3358.2 543.8,3348.1 561.4,3345.6 580.0,3350.6 593.0,3345.6 590.5,3333.0 608.0,3325.5 613.1,3323.0 600.5,3320.5 550.3,3325.5 500.0,3355.7" fill="#dcdddf"/>
<polygon points="650.8,3275.3 665.8,3257.7 673.4,3255.2 678.4,3262.7 698.5,3250.1 706.0,3247.6 711.1,3237.6 716.1,3232.5 731.2,3235.1 736.2,3225.0 741.2,3232.5 756.3,3235.1 776.4,3239.1 761.3,3242.6 741.2,3242.6 731.2,3247.6 716.1,3250.1 711.1,3260.2 708.5,3267.7 691.0,3270.2 675.9,3272.7 665.8,3275.3 650.8,3287.8 645.7,3300.4 638.2,3305.4 638.2,3300.4 648.2,3287.8" fill="#dcdddf"/>
<polygon points="450.0,3200.0 560.0,3175.0 578.0,3178.0 593.0,3188.1 590.5,3210.8 575.4,3220.8 575.4,3255.2 582.9,3277.8 595.5,3285.3 600.5,3277.8 650.8,3275.3 648.2,3287.8 638.2,3300.4 633.2,3312.9 628.1,3318.0 620.6,3310.4 615.6,3312.9 613.1,3323.0 600.5,3323.0 587.9,3325.5 575.4,3323.0 560.3,3325.5 551.4,3333.0 541.3,3330.5 531.3,3335.6 521.2,3345.6 511.2,3353.1 496.1,3358.2 486.0,3364.7 471.0,3365.7 450.9,3368.2 430.8,3368.2 430.8,3343.1 425.0,3343.0 425.0,3290.0 450.0,3280.0 445.0,3230.0" fill="#b9babf"/>
<polygon points="608.0,2828.1 659.2,2812.6 681.8,2816.5 680.3,2824.7 672.8,2835.2 672.8,2845.8 680.3,2854.8 681.8,2863.9 701.4,2872.9 724.0,2880.4 725.5,2889.5 725.5,2915.1 728.5,2922.6 746.6,2933.2 758.7,2936.2 761.7,2952.8 764.7,2967.9 769.2,2978.4 770.1,2999.5 761.7,3010.1 757.2,3020.6 761.7,3028.2 761.1,3040.2 754.2,3052.3 740.0,3060.0 660.0,3015.0 640.0,2975.0 600.0,2960.0 500.0,2955.0 460.0,2950.0 440.0,2910.0 470.0,2870.0" fill="#f59a8b"/>
<polygon points="511.8,2797.2 520.2,2783.8 518.5,2780.4 526.9,2772.0 526.9,2762.0 535.2,2755.3 535.2,2751.9 543.6,2750.3 548.6,2762.0 553.7,2750.3 545.3,2743.6 538.6,2735.2 540.3,2730.2 548.6,2725.1 552.0,2723.5 555.3,2728.5 557.0,2733.5 568.7,2723.5 590.5,2720.8 607.3,2721.8 620.7,2728.5 630.7,2735.2 647.5,2736.9 668.3,2737.4 685.9,2731.2 693.5,2740.2 705.0,2734.2 726.1,2745.2 753.8,2759.3 762.8,2767.8 753.8,2789.4 726.1,2793.0 720.1,2798.0 713.6,2813.1 701.0,2823.1 697.5,2816.6 686.9,2814.6 680.9,2816.6 659.8,2813.1 630.7,2820.6 608.0,2828.1 575.0,2832.0 550.0,2818.0 520.0,2806.0" fill="#b9babf"/>
<polygon points="664.3,3005.6 681.8,3016.1 690.8,3025.2 704.4,3031.2 719.5,3035.7 731.5,3046.3 740.6,3049.3 754.2,3052.3 752.8,3063.0 741.2,3068.4 721.1,3073.5 701.0,3071.0 687.4,3072.5 674.0,3082.8 660.6,3080.1 647.2,3074.7 645.9,3080.1 633.8,3081.4 632.5,3085.5 617.7,3086.8 601.6,3098.9 597.6,3100.2 594.9,3105.6 589.6,3105.6 580.0,3115.0 480.0,3110.0 480.0,3010.0 520.0,2990.0 600.0,2990.0" fill="#b9babf"/>
<polygon points="492.0,3103.8 530.5,3107.1 540.0,3109.2 580.2,3109.6 589.6,3105.0 590.9,3131.0 609.2,3132.4 609.2,3143.1 577.5,3141.7 576.2,3155.1 566.8,3157.8 576.2,3167.2 580.2,3175.3 580.4,3178.1 593.0,3188.1 582.9,3183.1 575.4,3189.6 566.4,3180.6 533.8,3183.1 546.3,3195.7 541.3,3205.7 503.6,3210.8 501.1,3225.8 458.4,3228.3 455.9,3205.7 445.0,3200.0 445.0,3100.0 460.0,3095.0 492.0,3098.0" fill="#b9babf"/>
<polygon points="502.0,2948.7 530.5,2945.3 550.5,2944.0 573.5,2941.0 577.6,2948.2 606.0,2951.0 633.2,2960.4 645.7,2973.0 650.8,2985.5 663.3,3005.6 627.0,3002.0 593.0,3002.5 590.6,3011.5 550.3,3010.0 521.5,3006.0 505.0,3000.0 498.0,2960.0" fill="#b9babf"/>
<polygon points="466.9,2863.3 471.0,2845.7 469.9,2838.2 473.5,2825.6 472.5,2813.1 476.0,2805.5 501.7,2790.5 511.8,2798.0 523.5,2800.5 533.6,2803.9 550.3,2812.2 573.8,2827.3 607.3,2827.6 585.4,2850.8 500.0,2888.4 461.8,2905.1 440.0,2895.0 445.0,2880.0" fill="#add136"/>
<polygon points="277.8,2721.4 289.9,2721.4 292.6,2725.5 302.0,2726.8 306.0,2725.5 311.3,2729.5 319.4,2732.2 321.2,2742.9 328.8,2745.6 328.8,2760.3 331.4,2764.3 326.1,2768.3 319.4,2777.7 313.6,2790.2 335.0,2810.0 330.0,2860.0 281.1,2875.9 233.4,2876.9 219.8,2871.9 210.8,2858.3 184.1,2835.7 196.1,2820.0 202.8,2804.5 210.8,2788.4 221.5,2787.1 222.9,2783.1 228.2,2781.7 230.9,2783.1 232.3,2787.9 242.2,2787.1 243.0,2783.1 247.0,2783.1 248.3,2787.1 265.8,2787.1 268.4,2783.1 241.1,2745.6 273.8,2734.8" fill="#add136"/>
<polygon points="210.8,2858.3 220.8,2869.8 233.4,2869.8 245.9,2873.4 258.5,2869.8 268.5,2874.4 281.1,2868.3 306.2,2847.7 330.0,2860.0 345.0,2900.0 354.0,2946.0 300.0,2935.0 200.0,2935.0 162.0,2918.5 163.7,2903.5 168.0,2898.5 185.6,2878.4" fill="#d0e5a4"/>
<polygon points="314.0,2790.8 320.7,2785.5 324.7,2785.5 326.1,2781.4 331.4,2780.1 335.5,2774.7 339.5,2773.4 340.8,2769.4 346.2,2767.5 354.2,2768.0 358.2,2772.1 358.8,2780.1 360.9,2786.8 366.3,2791.6 367.6,2796.2 377.0,2797.5 378.3,2816.3 383.7,2817.6 387.7,2824.3 398.4,2824.3 401.1,2813.6 407.8,2808.2 415.9,2808.2 418.5,2813.6 419.3,2830.2 427.9,2831.0 436.0,2837.7 438.6,2835.0 445.3,2833.7 450.7,2830.2 451.5,2835.0 445.3,2837.7 446.7,2841.7 458.7,2843.1 458.7,2846.3 449.4,2847.1 449.4,2849.8 456.1,2852.5 466.8,2863.2 468.1,2867.2 460.2,2872.9 455.7,2880.9 454.3,2890.3 438.7,2880.1 417.2,2864.5 371.6,2839.1 336.8,2823.0 322.1,2816.3 316.7,2802.9" fill="#cf152d"/>
<polygon points="301.2,2818.6 323.6,2816.3 372.2,2839.4 373.9,2870.6 372.2,2885.6 370.5,2900.7 337.0,2900.7 332.0,2889.0 323.6,2870.6 315.2,2857.2 306.2,2847.8" fill="#d0e5a4"/>
<polygon points="372.2,2839.4 410.7,2862.2 454.3,2892.3 454.3,2890.1 452.6,2901.8 444.2,2906.8 417.4,2930.3 410.7,2943.7 409.0,2955.4 386.6,2958.7 370.5,2930.3 367.2,2890.1 372.2,2885.6 373.9,2870.6" fill="#add136"/>
<polygon points="335.0,2892.3 351.1,2887.7 373.9,2886.9 375.3,2897.6 382.0,2901.1 382.8,2920.4 386.5,2921.7 385.4,2948.5 370.0,2952.0 352.0,2946.0 351.1,2940.5 348.4,2933.8 337.7,2912.4" fill="#f59a8b"/>
<polygon points="162.0,2918.5 183.8,2916.9 234.0,2913.5 260.8,2913.5 270.9,2908.5 280.9,2916.9 280.9,2967.1 237.4,2962.1 234.0,2952.0 220.6,2947.0 200.5,2943.7 190.5,2942.0 180.4,2933.6 168.7,2925.2 162.0,2923.6" fill="#b9babf"/>
<polygon points="237.4,2962.1 269.2,2962.1 298.0,2962.0 298.0,3005.0 253.6,3000.5 242.9,2996.9 240.2,2984.8 236.5,2983.5 236.5,2975.0" fill="#b9babf"/>
<polygon points="270.5,2909.5 276.1,2905.7 294.8,2904.3 305.6,2912.4 321.6,2923.1 340.4,2933.8 349.8,2940.5 352.0,2944.0 342.0,2955.0 342.0,2980.0 318.0,2990.0 293.8,2984.8 293.0,2963.0 269.2,2962.1 270.9,2933.6 275.9,2916.9" fill="#add136"/>
<polygon points="253.6,2999.6 295.1,3002.3 293.8,2984.8 317.9,2983.5 320.6,2976.8 344.7,2976.8 355.4,3041.1 328.6,3049.2 285.8,3055.9 268.3,3038.4 250.9,3026.4" fill="#f59a8b"/>
<polygon points="502.0,2948.7 513.8,2958.7 520.5,2972.1 522.1,2990.6 520.5,3005.6 515.4,3020.7 512.1,3030.1 512.7,3025.0 502.0,3033.4 470.2,3035.1 435.0,3036.8 409.9,3033.4 409.9,2980.5 443.4,2977.2 463.5,2972.1 488.6,2975.5 495.3,2965.4" fill="#d0e5a4"/>
<polygon points="454.3,2902.4 462.4,2904.5 460.2,2917.1 478.4,2929.2 497.2,2942.6 502.0,2948.7 495.3,2965.4 488.6,2978.8 463.5,2975.5 443.4,2980.5 430.0,2983.9 420.8,2985.5 410.0,2980.0 405.0,2956.0 409.0,2955.4 411.0,2945.0 415.5,2937.2 419.5,2926.5 430.2,2923.8 440.9,2910.4" fill="#cf152d"/>
<polygon points="435.0,3036.8 470.2,3035.1 502.0,3033.4 512.7,3025.0 510.4,3046.8 502.0,3073.6 493.7,3092.0 492.0,3103.8 455.1,3103.8 450.1,3100.4 443.4,3060.2" fill="#add136"/>
<polygon points="337.0,2942.0 352.1,2943.7 377.2,2948.7 409.0,2955.4 414.0,2958.7 417.4,2977.2 422.4,2997.3 425.8,3014.0 429.1,3020.0 427.5,3033.4 404.0,3041.2 352.1,3040.6 350.1,3040.6 350.1,3030.4 340.7,3030.4 339.4,2976.8 320.6,2976.8 317.9,2968.2 339.4,2968.2" fill="#cf152d"/>
<polygon points="264.2,3038.4 269.7,3037.1 277.7,3046.5 285.8,3051.3 307.2,3046.0 328.7,3042.5 330.0,3060.0 320.0,3095.0 305.0,3125.0 300.0,3150.0 296.3,3153.0 264.2,3142.3 275.9,3117.2 264.2,3109.8 240.7,3107.8 247.4,3095.4 252.4,3078.6 254.1,3053.5" fill="#add136"/>
<polygon points="325.3,3044.1 337.0,3042.8 352.1,3042.1 380.6,3041.4 370.5,3070.3 362.1,3092.0 355.4,3110.5 333.7,3102.1 313.6,3093.7 316.9,3077.0" fill="#b9babf"/>
<polygon points="338.0,3041.3 351.4,3041.3 351.4,3045.3 338.0,3045.3" fill="#cf152d"/>
<polygon points="404.0,3041.1 427.5,3033.4 435.8,3036.8 440.9,3056.9 450.9,3100.4 454.3,3112.1 437.5,3115.5 414.1,3120.5 412.4,3100.4 407.4,3070.3" fill="#d0e5a4"/>
<polygon points="380.6,3041.4 404.0,3041.1 407.4,3070.3 412.4,3100.4 414.1,3120.5 397.3,3120.5 355.4,3110.5 362.1,3092.0 370.5,3070.3" fill="#d0e5a4"/>
<polygon points="313.6,3093.7 333.7,3102.1 355.4,3110.5 350.4,3127.2 342.0,3147.3 335.3,3160.7 313.6,3152.3 293.5,3145.6 295.1,3130.6 303.5,3117.2" fill="#d0e5a4"/>
<polygon points="355.4,3110.5 397.3,3120.5 399.0,3137.3 395.6,3154.0 387.3,3183.5 377.2,3183.5 353.8,3176.8 333.7,3169.4 342.0,3147.3 350.4,3127.2" fill="#d0e5a4"/>
<polygon points="333.7,3169.4 353.8,3176.8 377.2,3183.5 387.3,3183.5 382.2,3200.3 378.9,3227.1 373.9,3247.2 370.5,3260.6 330.3,3247.2 305.2,3237.1 306.9,3222.0 313.6,3217.0 313.6,3203.6 320.3,3201.9 325.3,3186.9" fill="#d0e5a4"/>
<polygon points="382.2,3200.3 383.9,3201.9 425.8,3203.6 455.9,3201.9 457.6,3217.0 461.0,3243.8 465.9,3275.3 468.4,3292.8 433.3,3300.4 430.8,3343.1 403.1,3345.6 403.1,3310.4 360.4,3300.4 367.9,3282.8 370.5,3260.6 373.9,3247.2 378.9,3227.1" fill="#add136"/>
<polygon points="397.3,3120.5 414.1,3120.5 417.4,3137.3 419.1,3166.8 424.1,3193.6 425.8,3203.6 383.9,3201.9 382.2,3200.3 387.3,3183.5 388.9,3166.8 395.6,3154.0 399.0,3137.3" fill="#b9babf"/>
<polygon points="414.1,3120.5 437.5,3115.5 454.3,3112.1 455.9,3103.8 455.1,3103.8 456.1,3120.5 452.6,3180.2 455.9,3201.9 425.8,3203.6 424.1,3193.6 419.1,3166.8 417.4,3137.3" fill="#b9babf"/>
</g>
<g id="maplabels" font-size="17.5">
<text x="221.8" y="2819.1" textLength="70.4" lengthAdjust="spacingAndGlyphs" style="fill:#ffffff">Quilicura</text>
<text x="223.3" y="2896.0" textLength="48.8" lengthAdjust="spacingAndGlyphs" style="fill:#ffffff">Renca</text>
<text x="307.4" y="2854.8" textLength="67.1" lengthAdjust="spacingAndGlyphs" style="fill:#ffffff">Conchalí</text>
<text x="486.0" y="2846.7" textLength="65.4" lengthAdjust="spacingAndGlyphs" style="fill:#ffffff">Vitacura</text>
<text x="383.0" y="2902.0" textLength="70.4" lengthAdjust="spacingAndGlyphs" style="fill:#ffffff">Recoleta</text>
<text x="337.8" y="2917.0" textLength="45.2" lengthAdjust="spacingAndGlyphs" style="fill:#ffffff">Indep.</text>
<text x="570.4" y="2777.9" textLength="109.0" lengthAdjust="spacingAndGlyphs" style="fill:#ffffff">Lo Barnechea</text>
<text x="571.9" y="2910.6" textLength="92.4" lengthAdjust="spacingAndGlyphs" style="fill:#ffffff">Las Condes</text>
<text x="184.6" y="2936.3" textLength="92.5" lengthAdjust="spacingAndGlyphs" style="fill:#ffffff">Cerro Navia</text>
<text x="114.3" y="2975.5" textLength="77.4" lengthAdjust="spacingAndGlyphs" style="fill:#ffffff">Pudahuel</text>
<text x="276.1" y="2939.3" textLength="51.2" lengthAdjust="spacingAndGlyphs" style="fill:#ffffff">Quinta</text>
<text x="275.1" y="2955.4" textLength="56.3" lengthAdjust="spacingAndGlyphs" style="fill:#ffffff">Normal</text>
<text x="255.0" y="2979.5" textLength="21.1" lengthAdjust="spacingAndGlyphs" style="fill:#ffffff">Lo</text>
<text x="240.9" y="2996.6" textLength="47.7" lengthAdjust="spacingAndGlyphs" style="fill:#ffffff">Prado</text>
<text x="267.0" y="3021.7" textLength="68.4" lengthAdjust="spacingAndGlyphs" style="fill:#ffffff">Estación</text>
<text x="273.6" y="3038.3" textLength="56.8" lengthAdjust="spacingAndGlyphs" style="fill:#ffffff">Central</text>
<text x="324.2" y="3075.0" textLength="42.2" lengthAdjust="spacingAndGlyphs" style="fill:#ffffff">P.A.C.</text>
<text x="250.0" y="3091.6" textLength="61.3" lengthAdjust="spacingAndGlyphs" style="fill:#ffffff">Cerrillos</text>
<text x="410.7" y="2955.4" textLength="88.9" lengthAdjust="spacingAndGlyphs" style="fill:#ffffff">Providencia</text>
<text x="346.8" y="3000.6" textLength="68.9" lengthAdjust="spacingAndGlyphs" style="fill:#ffffff">Santiago</text>
<text x="439.8" y="3005.6" textLength="46.2" lengthAdjust="spacingAndGlyphs" style="fill:#ffffff">Ñuñoa</text>
<text x="455.9" y="3058.4" textLength="47.7" lengthAdjust="spacingAndGlyphs" style="fill:#ffffff">Macul</text>
<text x="409.6" y="3063.4" textLength="31.2" lengthAdjust="spacingAndGlyphs" style="fill:#ffffff">San</text>
<text x="400.6" y="3081.0" textLength="56.3" lengthAdjust="spacingAndGlyphs" style="fill:#ffffff">Joaquín</text>
<text x="370.5" y="3087.0" textLength="29.1" lengthAdjust="spacingAndGlyphs" style="fill:#ffffff">San</text>
<text x="357.9" y="3103.6" textLength="47.7" lengthAdjust="spacingAndGlyphs" style="fill:#ffffff">Miguel</text>
<text x="561.3" y="2983.0" textLength="68.3" lengthAdjust="spacingAndGlyphs" style="fill:#ffffff">La Reina</text>
<text x="561.3" y="3050.9" textLength="79.4" lengthAdjust="spacingAndGlyphs" style="fill:#ffffff">Peñalolén</text>
<text x="174.6" y="3129.3" textLength="50.2" lengthAdjust="spacingAndGlyphs" style="fill:#ffffff">Maipú</text>
<text x="311.3" y="3115.3" textLength="20.1" lengthAdjust="spacingAndGlyphs" style="fill:#ffffff">Lo</text>
<text x="295.2" y="3131.9" textLength="51.2" lengthAdjust="spacingAndGlyphs" style="fill:#ffffff">Espejo</text>
<text x="415.7" y="3142.9" textLength="72.8" lengthAdjust="spacingAndGlyphs" style="fill:#ffffff">La Granja</text>
<text x="475.0" y="3166.5" textLength="76.4" lengthAdjust="spacingAndGlyphs" style="fill:#ffffff">La Florida</text>
<text x="356.4" y="3139.4" textLength="18.1" lengthAdjust="spacingAndGlyphs" style="fill:#ffffff">La</text>
<text x="332.8" y="3156.5" textLength="66.8" lengthAdjust="spacingAndGlyphs" style="fill:#ffffff">Cisterna</text>
<text x="389.5" y="3174.6" textLength="27.2" lengthAdjust="spacingAndGlyphs" style="fill:#ffffff">San</text>
<text x="376.5" y="3191.7" textLength="55.3" lengthAdjust="spacingAndGlyphs" style="fill:#ffffff">Ramón</text>
<text x="304.1" y="3233.4" textLength="78.9" lengthAdjust="spacingAndGlyphs" style="fill:#ffffff">El Bosque</text>
<text x="376.5" y="3277.4" textLength="83.4" lengthAdjust="spacingAndGlyphs" style="fill:#ffffff">La Pintana</text>
<text x="471.0" y="3266.1" textLength="94.4" lengthAdjust="spacingAndGlyphs" style="fill:#ffffff">Puente Alto</text>
<text x="257.0" y="3286.3" textLength="107.4" lengthAdjust="spacingAndGlyphs" style="fill:#ffffff">San Bernardo</text>
<text x="370.5" y="2782.9" textLength="96.5" lengthAdjust="spacingAndGlyphs">Huechuraba</text>
</g>
</svg>
</body>
</html>
